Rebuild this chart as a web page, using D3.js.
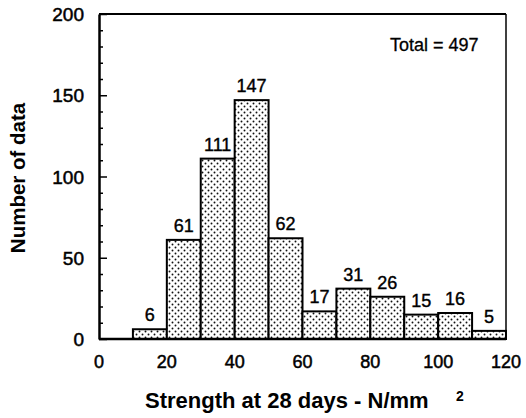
<!DOCTYPE html>
<html>
<head>
<meta charset="utf-8">
<script src="https://cdn.jsdelivr.net/npm/d3@7"></script>
<style>
  body { margin: 0; background: white; }
  svg { display: block; font-family: "Liberation Sans", Arial, sans-serif; }
</style>
</head>
<body>
<div id="chart"></div>
<script>
// histogram bins (lower edge) and counts
const binStarts = [10, 20, 30, 40, 50, 60, 70, 80, 90, 100, 110];
const binWidth = 10;
const counts = [6, 61, 111, 147, 62, 17, 31, 26, 15, 16, 5];
const xTicks = [0, 20, 40, 60, 80, 100, 120];
const yTicks = [0, 50, 100, 150, 200];
const totalLabel = "Total = 497";

const W = 526, H = 418;
const plotLeft = 99, plotRight = 506, plotTop = 14, plotBottom = 339;

const svg = d3.select("#chart").append("svg")
  .attr("width", W).attr("height", H);

// dotted fill
const defs = svg.append("defs");
const pat = defs.append("pattern")
  .attr("id", "dots")
  .attr("patternUnits", "userSpaceOnUse")
  .attr("width", 6).attr("height", 6);
pat.append("rect").attr("width", 6).attr("height", 6).attr("fill", "white");
pat.append("circle").attr("cx", 1.5).attr("cy", 1.5).attr("r", 0.95).attr("fill", "#111");
pat.append("circle").attr("cx", 4.5).attr("cy", 4.5).attr("r", 0.95).attr("fill", "#111");

const x = d3.scaleLinear().domain([0, 120]).range([plotLeft, plotRight]);
const y = d3.scaleLinear().domain([0, 200]).range([plotBottom, plotTop]);

// bars
svg.selectAll("rect.bar")
  .data(counts)
  .enter().append("rect")
  .attr("class", "bar")
  .attr("x", (d, i) => x(binStarts[i]))
  .attr("width", (d, i) => x(binStarts[i] + binWidth) - x(binStarts[i]))
  .attr("y", d => y(d))
  .attr("height", d => y(0) - y(d))
  .attr("fill", "url(#dots)")
  .attr("stroke", "black")
  .attr("stroke-width", 2);

// bar labels
svg.selectAll("text.count")
  .data(counts)
  .enter().append("text")
  .attr("class", "count")
  .attr("x", (d, i) => x(binStarts[i] + binWidth / 2))
  .attr("y", d => y(d) - 8)
  .attr("text-anchor", "middle")
  .attr("font-size", 18)
  .attr("stroke", "black").attr("stroke-width", 0.4)
  .text(d => d);

// frame: top and right
svg.append("line")
  .attr("x1", plotLeft).attr("y1", plotTop).attr("x2", plotRight).attr("y2", plotTop)
  .attr("stroke", "black").attr("stroke-width", 2);
svg.append("line")
  .attr("x1", plotRight).attr("y1", plotTop).attr("x2", plotRight).attr("y2", plotBottom)
  .attr("stroke", "black").attr("stroke-width", 1.5);

// y axis with inward minor ticks
const yAxis = d3.axisRight(y)
  .tickValues(d3.range(0, 201, 10))
  .tickSize(0)
  .tickFormat("");
const yg = svg.append("g").attr("transform", `translate(${plotLeft},0)`).call(yAxis);
yg.select(".domain").attr("stroke-width", 2.5);
yg.selectAll(".tick line")
  .attr("x2", d => (d % 50 === 0 ? 8 : 4))
  .attr("stroke-width", 1.5);

svg.selectAll("text.ytick")
  .data(yTicks)
  .enter().append("text")
  .attr("class", "ytick")
  .attr("x", 84)
  .attr("y", d => y(d) + 7)
  .attr("text-anchor", "end")
  .attr("font-size", 19)
  .attr("stroke", "black").attr("stroke-width", 0.5)
  .text(d => d);

// x axis
svg.append("line")
  .attr("x1", plotLeft).attr("y1", plotBottom).attr("x2", plotRight).attr("y2", plotBottom)
  .attr("stroke", "black").attr("stroke-width", 2.5);

svg.selectAll("text.xtick")
  .data(xTicks)
  .enter().append("text")
  .attr("class", "xtick")
  .attr("x", d => x(d))
  .attr("y", 368)
  .attr("text-anchor", "middle")
  .attr("font-size", 18)
  .attr("stroke", "black").attr("stroke-width", 0.5)
  .text(d => d);

// axis titles
svg.append("text")
  .attr("x", 145).attr("y", 408)
  .attr("font-size", 22).attr("font-weight", "bold")
  .text("Strength at 28 days - N/mm");
svg.append("text")
  .attr("x", 456).attr("y", 401)
  .attr("font-size", 14).attr("font-weight", "bold")
  .text("2");

svg.append("text")
  .attr("transform", "translate(25,178) rotate(-90)")
  .attr("text-anchor", "middle")
  .attr("font-size", 20.5).attr("font-weight", "bold")
  .text("Number of data");

svg.append("text")
  .attr("x", 390).attr("y", 51)
  .attr("font-size", 18)
  .attr("stroke", "black").attr("stroke-width", 0.3)
  .text(totalLabel);
</script>
</body>
</html>
